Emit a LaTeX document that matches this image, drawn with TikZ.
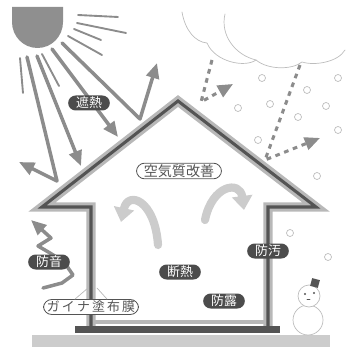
\documentclass[tikz,border=0pt]{standalone}
\usepackage{fontspec}
\usepackage{tikz}
\usetikzlibrary{arrows}
\usetikzlibrary{arrows.meta}
\usetikzlibrary{calc}
\newfontfamily\jpfont{Noto Sans CJK JP}
\definecolor{sungray}{rgb}{0.56,0.56,0.56}
\definecolor{raygray}{rgb}{0.55,0.55,0.55}
\definecolor{wallgray}{rgb}{0.72,0.72,0.72}
\definecolor{walldark}{rgb}{0.33,0.33,0.33}
\definecolor{pilldark}{rgb}{0.30,0.30,0.30}
\definecolor{snowgray}{rgb}{0.74,0.74,0.74}
\definecolor{groundgray}{rgb}{0.80,0.80,0.80}
\definecolor{aircurl}{rgb}{0.80,0.80,0.80}

\begin{document}
\begin{tikzpicture}[line cap=round,line join=round,>={Triangle[length=13pt,width=11pt]},x=0.03cm,y=-0.03cm,
  darkpill/.style={fill=pilldark,text=white,rounded corners=6.4pt,minimum width=1.25cm,minimum height=0.45cm,inner sep=0pt,font=\jpfont\fontsize{11}{11}\selectfont},
  linepill/.style={draw=walldark,line width=0.7pt,fill=white,text=walldark,rounded corners=7pt,minimum height=0.47cm,inner sep=0pt},
  ray/.style={color=raygray,line width=3pt},
  thinray/.style={color=raygray,line width=1.6pt},
  rain/.style={color=raygray,line width=2.6pt,dash pattern=on 4pt off 4pt,line cap=butt},
  flake/.style={color=snowgray,line width=0.6pt}]
\useasboundingbox (0,0) rectangle (345,347);

% ground and floor
\fill[color=groundgray] (32,335) rectangle (330,347);
\draw[color=wallgray,line width=3.5pt] (91,322) -- (268,322);

% house walls and roof
\draw[color=wallgray,line width=8pt,line join=miter] (91,326) -- (91,207) -- (42,207) -- (178,101) -- (316,207) -- (268,207) -- (268,326);
\draw[color=walldark,line width=2.6pt,line join=miter] (91,326) -- (91,207) -- (42,207) -- (178,101) -- (316,207) -- (268,207) -- (268,326);
\fill[color=walldark] (75,326) rectangle (280,333);

% sun
\fill[color=sungray] (12,7) -- (12,22) .. controls (12,36) and (23,48) .. (37.5,48) .. controls (52,48) and (63,36) .. (63,22) -- (63,7) -- cycle;
\draw[thinray] (78,15) -- (118,17);
\draw[thinray] (77,23) -- (126,33);
\draw[thinray] (74,29) -- (101,40);
\draw[thinray] (68,36) -- (102,55);
\draw[thinray] (20,58) -- (23,93);
\draw[thinray] (42,54) -- (59,86);

% sunlight reflected by the coating
\draw[ray,->] (27,57) -- (57,181) -- (19,162);
\draw[ray,->] (37,56) -- (81,166);
\draw[ray,->] (52,49) -- (118,137);
\draw[ray,->] (62,43) -- (140,119) -- (157,63);

% cloud
\draw[color=snowgray,line width=0.6pt] (182,12) .. controls (185,30) and (195,42) .. (207,43)
  .. controls (215,62) and (245,68) .. (256,60)
  .. controls (268,70) and (292,70) .. (302,62)
  .. controls (315,66) and (338,62) .. (345,50);
\draw[color=snowgray,line width=0.6pt] (225,14) .. controls (220,35) and (235,55) .. (256,60);

% rain bouncing off
\draw[rain,->] (212,60) -- (201,102) -- (233,84);
\draw[rain,->] (300,65) -- (265,160) -- (320,138);

% snow
\foreach \p in {(262,78),(338,78),(307,90),(238,108),(270,104),(326,106),(298,117),(338,130),(258,140),(317,176),(290,233),(328,257)}
\draw[flake] \p circle (3.5);

% air flow inside
\draw[color=aircurl,line width=7pt,-{Triangle[length=12pt,width=17pt]}] (158,245) .. controls (155,200) and (128,190) .. (121,222);
\draw[color=aircurl,line width=7pt,-{Triangle[length=12pt,width=17pt]}] (205,220) .. controls (212,185) and (240,180) .. (244,210);

% sound
\draw[ray,->] (43,288) -- (62,283) -- (73,275) -- (64,262) -- (50,253) -- (38,246) -- (51,238) -- (31,220);

% snowman
\draw[flake,fill=white] (308,320) circle (15);
\draw[flake,fill=white] (309,296) circle (11);
\fill[color=walldark,rotate around={-15:(315,283)}] (311,279) rectangle (319,287);
\fill[color=walldark] (305,294) circle (1.1) (314,293) circle (1.1);
\draw[color=walldark,line width=0.5pt] (307,299) -- (310,299);

% labels
\node[darkpill] (heat) at (89,103) {遮熱};
\node[darkpill] (sound) at (49,262) {防音};
\node[darkpill] (dirt) at (268,251) {防汚};
\node[darkpill] (insul) at (180,272) {断熱};
\node[darkpill] (dew) at (224,301) {防露};
\node[linepill,minimum width=2.55cm,font=\jpfont\fontsize{12}{12}\selectfont] (air) at (179,171) {空気質改善};
\node[linepill,minimum width=2.85cm,minimum height=0.45cm,font=\jpfont\fontsize{11}{11}\selectfont] (coat) at (91,307) {ガ\,イ\,ナ\,塗\,布\,膜};
\coordinate (wallfoot) at (91,288);
\draw[color=wallgray,line width=0.6pt] ($(coat.north)+(-16,0)$) -- ($(wallfoot)+(-3,0)$);
\draw[color=wallgray,line width=0.6pt] ($(coat.north)+(16,0)$) -- ($(wallfoot)+(6,0)$);
\end{tikzpicture}
\end{document}
